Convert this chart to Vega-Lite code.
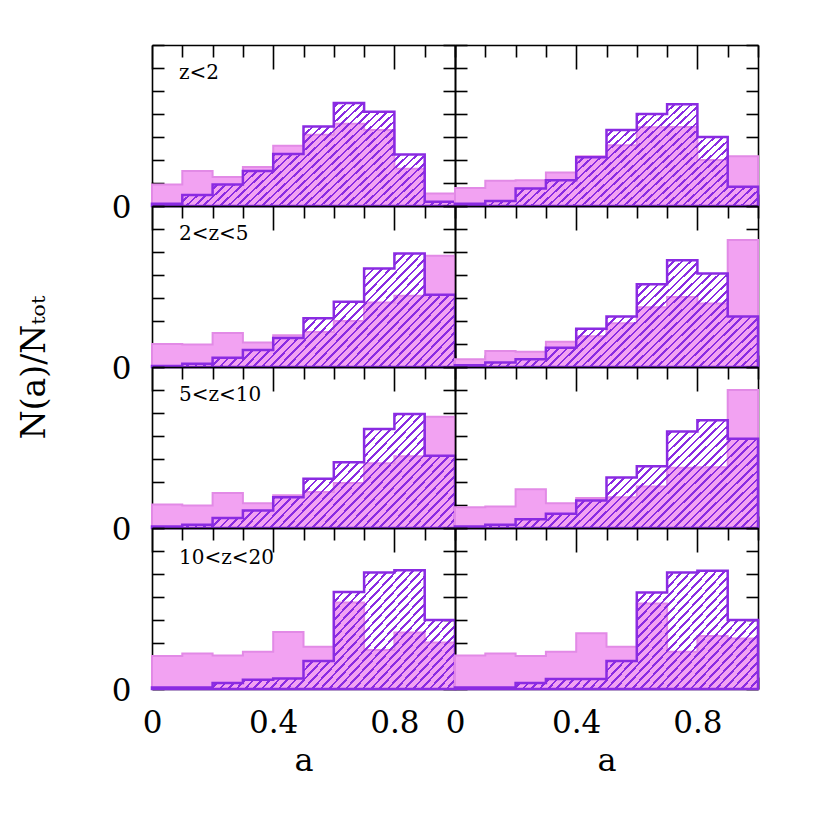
{
  "$schema": "https://vega.github.io/schema/vega-lite/v6.json",
  "background": "white",
  "padding": {"left": 18, "top": 31, "right": 5, "bottom": 5},
  "datasets": {
    "r1L": [
      {"a": 0.0, "pink": 0.047, "purple": 0.005}, {"a": 0.1, "pink": 0.076, "purple": 0.024},
      {"a": 0.2, "pink": 0.063, "purple": 0.047}, {"a": 0.3, "pink": 0.085, "purple": 0.076},
      {"a": 0.4, "pink": 0.131, "purple": 0.113}, {"a": 0.5, "pink": 0.155, "purple": 0.173},
      {"a": 0.6, "pink": 0.179, "purple": 0.224}, {"a": 0.7, "pink": 0.165, "purple": 0.205},
      {"a": 0.8, "pink": 0.081, "purple": 0.112}, {"a": 0.9, "pink": 0.027, "purple": 0.009},
      {"a": 1.0, "pink": 0.027, "purple": 0.009}
    ],
    "r1R": [
      {"a": 0.0, "pink": 0.039, "purple": 0.005}, {"a": 0.1, "pink": 0.055, "purple": 0.011},
      {"a": 0.2, "pink": 0.056, "purple": 0.038}, {"a": 0.3, "pink": 0.073, "purple": 0.056},
      {"a": 0.4, "pink": 0.108, "purple": 0.106}, {"a": 0.5, "pink": 0.132, "purple": 0.165},
      {"a": 0.6, "pink": 0.171, "purple": 0.200}, {"a": 0.7, "pink": 0.172, "purple": 0.221},
      {"a": 0.8, "pink": 0.100, "purple": 0.150}, {"a": 0.9, "pink": 0.108, "purple": 0.042},
      {"a": 1.0, "pink": 0.108, "purple": 0.042}
    ],
    "r2L": [
      {"a": 0.0, "pink": 0.050, "purple": 0.002}, {"a": 0.1, "pink": 0.049, "purple": 0.007},
      {"a": 0.2, "pink": 0.074, "purple": 0.020}, {"a": 0.3, "pink": 0.053, "purple": 0.037},
      {"a": 0.4, "pink": 0.069, "purple": 0.063}, {"a": 0.5, "pink": 0.076, "purple": 0.106},
      {"a": 0.6, "pink": 0.100, "purple": 0.142}, {"a": 0.7, "pink": 0.140, "purple": 0.214},
      {"a": 0.8, "pink": 0.155, "purple": 0.247}, {"a": 0.9, "pink": 0.242, "purple": 0.157},
      {"a": 1.0, "pink": 0.242, "purple": 0.157}
    ],
    "r2R": [
      {"a": 0.0, "pink": 0.017, "purple": 0.004}, {"a": 0.1, "pink": 0.035, "purple": 0.010},
      {"a": 0.2, "pink": 0.033, "purple": 0.017}, {"a": 0.3, "pink": 0.055, "purple": 0.042},
      {"a": 0.4, "pink": 0.067, "purple": 0.083}, {"a": 0.5, "pink": 0.095, "purple": 0.110},
      {"a": 0.6, "pink": 0.130, "purple": 0.180}, {"a": 0.7, "pink": 0.152, "purple": 0.232},
      {"a": 0.8, "pink": 0.138, "purple": 0.203}, {"a": 0.9, "pink": 0.276, "purple": 0.110},
      {"a": 1.0, "pink": 0.276, "purple": 0.110}
    ],
    "r3L": [
      {"a": 0.0, "pink": 0.051, "purple": 0.003}, {"a": 0.1, "pink": 0.049, "purple": 0.007},
      {"a": 0.2, "pink": 0.076, "purple": 0.022}, {"a": 0.3, "pink": 0.054, "purple": 0.038},
      {"a": 0.4, "pink": 0.071, "purple": 0.067}, {"a": 0.5, "pink": 0.078, "purple": 0.107},
      {"a": 0.6, "pink": 0.098, "purple": 0.143}, {"a": 0.7, "pink": 0.141, "purple": 0.215},
      {"a": 0.8, "pink": 0.156, "purple": 0.248}, {"a": 0.9, "pink": 0.242, "purple": 0.157},
      {"a": 1.0, "pink": 0.242, "purple": 0.157}
    ],
    "r3R": [
      {"a": 0.0, "pink": 0.045, "purple": 0.003}, {"a": 0.1, "pink": 0.047, "purple": 0.007},
      {"a": 0.2, "pink": 0.084, "purple": 0.019}, {"a": 0.3, "pink": 0.054, "purple": 0.031},
      {"a": 0.4, "pink": 0.065, "purple": 0.060}, {"a": 0.5, "pink": 0.067, "purple": 0.110},
      {"a": 0.6, "pink": 0.090, "purple": 0.134}, {"a": 0.7, "pink": 0.131, "purple": 0.210},
      {"a": 0.8, "pink": 0.132, "purple": 0.234}, {"a": 0.9, "pink": 0.300, "purple": 0.194},
      {"a": 1.0, "pink": 0.300, "purple": 0.194}
    ],
    "r4L": [
      {"a": 0.0, "pink": 0.072, "purple": 0.003}, {"a": 0.1, "pink": 0.077, "purple": 0.003},
      {"a": 0.2, "pink": 0.073, "purple": 0.013}, {"a": 0.3, "pink": 0.081, "purple": 0.020},
      {"a": 0.4, "pink": 0.124, "purple": 0.023}, {"a": 0.5, "pink": 0.092, "purple": 0.061},
      {"a": 0.6, "pink": 0.188, "purple": 0.211}, {"a": 0.7, "pink": 0.085, "purple": 0.253},
      {"a": 0.8, "pink": 0.123, "purple": 0.258}, {"a": 0.9, "pink": 0.101, "purple": 0.150},
      {"a": 1.0, "pink": 0.101, "purple": 0.150}
    ],
    "r4R": [
      {"a": 0.0, "pink": 0.073, "purple": 0.003}, {"a": 0.1, "pink": 0.077, "purple": 0.003},
      {"a": 0.2, "pink": 0.072, "purple": 0.013}, {"a": 0.3, "pink": 0.081, "purple": 0.022},
      {"a": 0.4, "pink": 0.121, "purple": 0.022}, {"a": 0.5, "pink": 0.092, "purple": 0.061},
      {"a": 0.6, "pink": 0.186, "purple": 0.210}, {"a": 0.7, "pink": 0.081, "purple": 0.253},
      {"a": 0.8, "pink": 0.115, "purple": 0.257}, {"a": 0.9, "pink": 0.110, "purple": 0.150},
      {"a": 1.0, "pink": 0.110, "purple": 0.150}
    ]
  },
  "columns": 2,
  "spacing": 0,
  "bounds": "flush",
  "concat": [
    {
      "width": 303, "height": 161, "data": {"name": "r1L"},
      "layer": [
        {"mark": {"type": "area", "interpolate": "step-after", "fill": "#f2a2f2", "stroke": "#e28ae6", "strokeWidth": 2},
         "encoding": {
           "x": {"field": "a", "type": "quantitative", "scale": {"domain": [0, 1], "nice": false}, "axis": {"orient": "bottom", "values": [0, 0.1, 0.2, 0.3, 0.4, 0.5, 0.6, 0.7, 0.8, 0.9, 1], "tickSize": {"condition": {"test": "round(datum.value*10)%4==0", "value": -24}, "value": -12}, "labels": false, "title": null}},
           "y": {"field": "pink", "type": "quantitative", "scale": {"domain": [0, 0.35], "nice": false}, "axis": {"orient": "left", "values": [0, 0.05, 0.1, 0.15, 0.2, 0.25, 0.3, 0.35], "tickSize": -12, "labelExpr": "datum.value==0 ? '0' : ''", "labelPadding": 33, "labelOffset": 2, "title": null}}
         }},
        {"mark": {"type": "area", "interpolate": "step-after", "stroke": "#8a2be2", "strokeWidth": 2.5},
         "encoding": {
           "x": {"field": "a", "type": "quantitative", "scale": {"domain": [0, 1], "nice": false}, "axis": {"orient": "top", "values": [0, 0.1, 0.2, 0.3, 0.4, 0.5, 0.6, 0.7, 0.8, 0.9, 1], "tickSize": {"condition": {"test": "round(datum.value*10)%4==0", "value": -24}, "value": -12}, "labels": false, "title": null}},
           "y": {"field": "purple", "type": "quantitative", "scale": {"domain": [0, 0.35], "nice": false}, "axis": {"orient": "right", "values": [0, 0.05, 0.1, 0.15, 0.2, 0.25, 0.3, 0.35], "tickSize": -12, "labels": false, "title": null}}
         }},
        {"data": {"values": [{"t": "z<2"}]},
         "mark": {"type": "text", "font": "DejaVu Serif", "fontSize": 20, "align": "left", "baseline": "alphabetic", "color": "black"},
         "encoding": {
           "x": {"datum": 0.089, "type": "quantitative", "scale": {"domain": [0, 1], "nice": false}, "axis": null},
           "y": {"datum": 0.276, "type": "quantitative", "scale": {"domain": [0, 0.35], "nice": false}, "axis": null},
           "text": {"field": "t"}
         }}
      ],
      "resolve": {"axis": {"x": "independent", "y": "independent"}}
    },
    {
      "width": 303, "height": 161, "data": {"name": "r1R"},
      "layer": [
        {"mark": {"type": "area", "interpolate": "step-after", "fill": "#f2a2f2", "stroke": "#e28ae6", "strokeWidth": 2},
         "encoding": {
           "x": {"field": "a", "type": "quantitative", "scale": {"domain": [0, 1], "nice": false}, "axis": {"orient": "bottom", "values": [0, 0.1, 0.2, 0.3, 0.4, 0.5, 0.6, 0.7, 0.8, 0.9, 1], "tickSize": {"condition": {"test": "round(datum.value*10)%4==0", "value": -24}, "value": -12}, "labels": false, "title": null}},
           "y": {"field": "pink", "type": "quantitative", "scale": {"domain": [0, 0.35], "nice": false}, "axis": {"orient": "left", "values": [0, 0.05, 0.1, 0.15, 0.2, 0.25, 0.3, 0.35], "tickSize": -12, "labels": false, "title": null}}
         }},
        {"mark": {"type": "area", "interpolate": "step-after", "stroke": "#8a2be2", "strokeWidth": 2.5},
         "encoding": {
           "x": {"field": "a", "type": "quantitative", "scale": {"domain": [0, 1], "nice": false}, "axis": {"orient": "top", "values": [0, 0.1, 0.2, 0.3, 0.4, 0.5, 0.6, 0.7, 0.8, 0.9, 1], "tickSize": {"condition": {"test": "round(datum.value*10)%4==0", "value": -24}, "value": -12}, "labels": false, "title": null}},
           "y": {"field": "purple", "type": "quantitative", "scale": {"domain": [0, 0.35], "nice": false}, "axis": {"orient": "right", "values": [0, 0.05, 0.1, 0.15, 0.2, 0.25, 0.3, 0.35], "tickSize": -12, "labels": false, "title": null}}
         }}
      ],
      "resolve": {"axis": {"x": "independent", "y": "independent"}}
    },
    {
      "width": 303, "height": 161, "data": {"name": "r2L"},
      "layer": [
        {"mark": {"type": "area", "interpolate": "step-after", "fill": "#f2a2f2", "stroke": "#e28ae6", "strokeWidth": 2},
         "encoding": {
           "x": {"field": "a", "type": "quantitative", "scale": {"domain": [0, 1], "nice": false}, "axis": {"orient": "bottom", "values": [0, 0.1, 0.2, 0.3, 0.4, 0.5, 0.6, 0.7, 0.8, 0.9, 1], "tickSize": {"condition": {"test": "round(datum.value*10)%4==0", "value": -24}, "value": -12}, "labels": false, "title": null}},
           "y": {"field": "pink", "type": "quantitative", "scale": {"domain": [0, 0.35], "nice": false}, "axis": {"orient": "left", "values": [0, 0.05, 0.1, 0.15, 0.2, 0.25, 0.3, 0.35], "tickSize": -12, "labelExpr": "datum.value==0 ? '0' : ''", "labelPadding": 33, "labelOffset": 2, "title": "N(a)/Nₜₒₜ", "titleX": -118, "titleY": 161, "titleAngle": 270, "titleAlign": "center", "titleBaseline": "middle", "titleFontSize": 33}}
         }},
        {"mark": {"type": "area", "interpolate": "step-after", "stroke": "#8a2be2", "strokeWidth": 2.5},
         "encoding": {
           "x": {"field": "a", "type": "quantitative", "scale": {"domain": [0, 1], "nice": false}, "axis": {"orient": "top", "values": [0, 0.1, 0.2, 0.3, 0.4, 0.5, 0.6, 0.7, 0.8, 0.9, 1], "tickSize": {"condition": {"test": "round(datum.value*10)%4==0", "value": -24}, "value": -12}, "labels": false, "title": null}},
           "y": {"field": "purple", "type": "quantitative", "scale": {"domain": [0, 0.35], "nice": false}, "axis": {"orient": "right", "values": [0, 0.05, 0.1, 0.15, 0.2, 0.25, 0.3, 0.35], "tickSize": -12, "labels": false, "title": null}}
         }},
        {"data": {"values": [{"t": "2<z<5"}]},
         "mark": {"type": "text", "font": "DejaVu Serif", "fontSize": 20, "align": "left", "baseline": "alphabetic", "color": "black"},
         "encoding": {
           "x": {"datum": 0.089, "type": "quantitative", "scale": {"domain": [0, 1], "nice": false}, "axis": null},
           "y": {"datum": 0.276, "type": "quantitative", "scale": {"domain": [0, 0.35], "nice": false}, "axis": null},
           "text": {"field": "t"}
         }}
      ],
      "resolve": {"axis": {"x": "independent", "y": "independent"}}
    },
    {
      "width": 303, "height": 161, "data": {"name": "r2R"},
      "layer": [
        {"mark": {"type": "area", "interpolate": "step-after", "fill": "#f2a2f2", "stroke": "#e28ae6", "strokeWidth": 2},
         "encoding": {
           "x": {"field": "a", "type": "quantitative", "scale": {"domain": [0, 1], "nice": false}, "axis": {"orient": "bottom", "values": [0, 0.1, 0.2, 0.3, 0.4, 0.5, 0.6, 0.7, 0.8, 0.9, 1], "tickSize": {"condition": {"test": "round(datum.value*10)%4==0", "value": -24}, "value": -12}, "labels": false, "title": null}},
           "y": {"field": "pink", "type": "quantitative", "scale": {"domain": [0, 0.35], "nice": false}, "axis": {"orient": "left", "values": [0, 0.05, 0.1, 0.15, 0.2, 0.25, 0.3, 0.35], "tickSize": -12, "labels": false, "title": null}}
         }},
        {"mark": {"type": "area", "interpolate": "step-after", "stroke": "#8a2be2", "strokeWidth": 2.5},
         "encoding": {
           "x": {"field": "a", "type": "quantitative", "scale": {"domain": [0, 1], "nice": false}, "axis": {"orient": "top", "values": [0, 0.1, 0.2, 0.3, 0.4, 0.5, 0.6, 0.7, 0.8, 0.9, 1], "tickSize": {"condition": {"test": "round(datum.value*10)%4==0", "value": -24}, "value": -12}, "labels": false, "title": null}},
           "y": {"field": "purple", "type": "quantitative", "scale": {"domain": [0, 0.35], "nice": false}, "axis": {"orient": "right", "values": [0, 0.05, 0.1, 0.15, 0.2, 0.25, 0.3, 0.35], "tickSize": -12, "labels": false, "title": null}}
         }}
      ],
      "resolve": {"axis": {"x": "independent", "y": "independent"}}
    },
    {
      "width": 303, "height": 161, "data": {"name": "r3L"},
      "layer": [
        {"mark": {"type": "area", "interpolate": "step-after", "fill": "#f2a2f2", "stroke": "#e28ae6", "strokeWidth": 2},
         "encoding": {
           "x": {"field": "a", "type": "quantitative", "scale": {"domain": [0, 1], "nice": false}, "axis": {"orient": "bottom", "values": [0, 0.1, 0.2, 0.3, 0.4, 0.5, 0.6, 0.7, 0.8, 0.9, 1], "tickSize": {"condition": {"test": "round(datum.value*10)%4==0", "value": -24}, "value": -12}, "labels": false, "title": null}},
           "y": {"field": "pink", "type": "quantitative", "scale": {"domain": [0, 0.35], "nice": false}, "axis": {"orient": "left", "values": [0, 0.05, 0.1, 0.15, 0.2, 0.25, 0.3, 0.35], "tickSize": -12, "labelExpr": "datum.value==0 ? '0' : ''", "labelPadding": 33, "labelOffset": 2, "title": null}}
         }},
        {"mark": {"type": "area", "interpolate": "step-after", "stroke": "#8a2be2", "strokeWidth": 2.5},
         "encoding": {
           "x": {"field": "a", "type": "quantitative", "scale": {"domain": [0, 1], "nice": false}, "axis": {"orient": "top", "values": [0, 0.1, 0.2, 0.3, 0.4, 0.5, 0.6, 0.7, 0.8, 0.9, 1], "tickSize": {"condition": {"test": "round(datum.value*10)%4==0", "value": -24}, "value": -12}, "labels": false, "title": null}},
           "y": {"field": "purple", "type": "quantitative", "scale": {"domain": [0, 0.35], "nice": false}, "axis": {"orient": "right", "values": [0, 0.05, 0.1, 0.15, 0.2, 0.25, 0.3, 0.35], "tickSize": -12, "labels": false, "title": null}}
         }},
        {"data": {"values": [{"t": "5<z<10"}]},
         "mark": {"type": "text", "font": "DejaVu Serif", "fontSize": 20, "align": "left", "baseline": "alphabetic", "color": "black"},
         "encoding": {
           "x": {"datum": 0.089, "type": "quantitative", "scale": {"domain": [0, 1], "nice": false}, "axis": null},
           "y": {"datum": 0.276, "type": "quantitative", "scale": {"domain": [0, 0.35], "nice": false}, "axis": null},
           "text": {"field": "t"}
         }}
      ],
      "resolve": {"axis": {"x": "independent", "y": "independent"}}
    },
    {
      "width": 303, "height": 161, "data": {"name": "r3R"},
      "layer": [
        {"mark": {"type": "area", "interpolate": "step-after", "fill": "#f2a2f2", "stroke": "#e28ae6", "strokeWidth": 2},
         "encoding": {
           "x": {"field": "a", "type": "quantitative", "scale": {"domain": [0, 1], "nice": false}, "axis": {"orient": "bottom", "values": [0, 0.1, 0.2, 0.3, 0.4, 0.5, 0.6, 0.7, 0.8, 0.9, 1], "tickSize": {"condition": {"test": "round(datum.value*10)%4==0", "value": -24}, "value": -12}, "labels": false, "title": null}},
           "y": {"field": "pink", "type": "quantitative", "scale": {"domain": [0, 0.35], "nice": false}, "axis": {"orient": "left", "values": [0, 0.05, 0.1, 0.15, 0.2, 0.25, 0.3, 0.35], "tickSize": -12, "labels": false, "title": null}}
         }},
        {"mark": {"type": "area", "interpolate": "step-after", "stroke": "#8a2be2", "strokeWidth": 2.5},
         "encoding": {
           "x": {"field": "a", "type": "quantitative", "scale": {"domain": [0, 1], "nice": false}, "axis": {"orient": "top", "values": [0, 0.1, 0.2, 0.3, 0.4, 0.5, 0.6, 0.7, 0.8, 0.9, 1], "tickSize": {"condition": {"test": "round(datum.value*10)%4==0", "value": -24}, "value": -12}, "labels": false, "title": null}},
           "y": {"field": "purple", "type": "quantitative", "scale": {"domain": [0, 0.35], "nice": false}, "axis": {"orient": "right", "values": [0, 0.05, 0.1, 0.15, 0.2, 0.25, 0.3, 0.35], "tickSize": -12, "labels": false, "title": null}}
         }}
      ],
      "resolve": {"axis": {"x": "independent", "y": "independent"}}
    },
    {
      "width": 303, "height": 161, "data": {"name": "r4L"},
      "layer": [
        {"mark": {"type": "area", "interpolate": "step-after", "fill": "#f2a2f2", "stroke": "#e28ae6", "strokeWidth": 2},
         "encoding": {
           "x": {"field": "a", "type": "quantitative", "scale": {"domain": [0, 1], "nice": false}, "axis": {"orient": "bottom", "values": [0, 0.1, 0.2, 0.3, 0.4, 0.5, 0.6, 0.7, 0.8, 0.9, 1], "tickSize": {"condition": {"test": "round(datum.value*10)%4==0", "value": -24}, "value": -12}, "labelExpr": "round(datum.value*10)%4==0 && datum.value<0.95 ? (datum.value==0 ? '0' : format(datum.value,'.1f')) : ''", "labelPadding": 43, "title": "a", "titlePadding": -5}},
           "y": {"field": "pink", "type": "quantitative", "scale": {"domain": [0, 0.35], "nice": false}, "axis": {"orient": "left", "values": [0, 0.05, 0.1, 0.15, 0.2, 0.25, 0.3, 0.35], "tickSize": -12, "labelExpr": "datum.value==0 ? '0' : ''", "labelPadding": 33, "labelOffset": 2, "title": null}}
         }},
        {"mark": {"type": "area", "interpolate": "step-after", "stroke": "#8a2be2", "strokeWidth": 2.5},
         "encoding": {
           "x": {"field": "a", "type": "quantitative", "scale": {"domain": [0, 1], "nice": false}, "axis": {"orient": "top", "values": [0, 0.1, 0.2, 0.3, 0.4, 0.5, 0.6, 0.7, 0.8, 0.9, 1], "tickSize": {"condition": {"test": "round(datum.value*10)%4==0", "value": -24}, "value": -12}, "labels": false, "title": null}},
           "y": {"field": "purple", "type": "quantitative", "scale": {"domain": [0, 0.35], "nice": false}, "axis": {"orient": "right", "values": [0, 0.05, 0.1, 0.15, 0.2, 0.25, 0.3, 0.35], "tickSize": -12, "labels": false, "title": null}}
         }},
        {"data": {"values": [{"t": "10<z<20"}]},
         "mark": {"type": "text", "font": "DejaVu Serif", "fontSize": 20, "align": "left", "baseline": "alphabetic", "color": "black"},
         "encoding": {
           "x": {"datum": 0.089, "type": "quantitative", "scale": {"domain": [0, 1], "nice": false}, "axis": null},
           "y": {"datum": 0.272, "type": "quantitative", "scale": {"domain": [0, 0.35], "nice": false}, "axis": null},
           "text": {"field": "t"}
         }}
      ],
      "resolve": {"axis": {"x": "independent", "y": "independent"}}
    },
    {
      "width": 303, "height": 161, "data": {"name": "r4R"},
      "layer": [
        {"mark": {"type": "area", "interpolate": "step-after", "fill": "#f2a2f2", "stroke": "#e28ae6", "strokeWidth": 2},
         "encoding": {
           "x": {"field": "a", "type": "quantitative", "scale": {"domain": [0, 1], "nice": false}, "axis": {"orient": "bottom", "values": [0, 0.1, 0.2, 0.3, 0.4, 0.5, 0.6, 0.7, 0.8, 0.9, 1], "tickSize": {"condition": {"test": "round(datum.value*10)%4==0", "value": -24}, "value": -12}, "labelExpr": "round(datum.value*10)%4==0 && datum.value<0.95 ? (datum.value==0 ? '0' : format(datum.value,'.1f')) : ''", "labelPadding": 43, "title": "a", "titlePadding": -5}},
           "y": {"field": "pink", "type": "quantitative", "scale": {"domain": [0, 0.35], "nice": false}, "axis": {"orient": "left", "values": [0, 0.05, 0.1, 0.15, 0.2, 0.25, 0.3, 0.35], "tickSize": -12, "labels": false, "title": null}}
         }},
        {"mark": {"type": "area", "interpolate": "step-after", "stroke": "#8a2be2", "strokeWidth": 2.5},
         "encoding": {
           "x": {"field": "a", "type": "quantitative", "scale": {"domain": [0, 1], "nice": false}, "axis": {"orient": "top", "values": [0, 0.1, 0.2, 0.3, 0.4, 0.5, 0.6, 0.7, 0.8, 0.9, 1], "tickSize": {"condition": {"test": "round(datum.value*10)%4==0", "value": -24}, "value": -12}, "labels": false, "title": null}},
           "y": {"field": "purple", "type": "quantitative", "scale": {"domain": [0, 0.35], "nice": false}, "axis": {"orient": "right", "values": [0, 0.05, 0.1, 0.15, 0.2, 0.25, 0.3, 0.35], "tickSize": -12, "labels": false, "title": null}}
         }}
      ],
      "resolve": {"axis": {"x": "independent", "y": "independent"}}
    }
  ],
  "config": {
    "view": {"stroke": null},
    "area": {
      "fill": {
        "gradient": "linear", "x1": 0, "y1": 0, "x2": 1.531, "y2": 0.5557,
        "stops": [
          {"offset": 0, "color": "#8a2be2"}, {"offset": 0.005, "color": "#8a2be2"}, {"offset": 0.005, "color": "#8a2be200"}, {"offset": 0.016, "color": "#8a2be200"},
          {"offset": 0.016, "color": "#8a2be2"}, {"offset": 0.021, "color": "#8a2be2"}, {"offset": 0.021, "color": "#8a2be200"}, {"offset": 0.032, "color": "#8a2be200"},
          {"offset": 0.032, "color": "#8a2be2"}, {"offset": 0.037, "color": "#8a2be2"}, {"offset": 0.037, "color": "#8a2be200"}, {"offset": 0.048, "color": "#8a2be200"},
          {"offset": 0.048, "color": "#8a2be2"}, {"offset": 0.053, "color": "#8a2be2"}, {"offset": 0.053, "color": "#8a2be200"}, {"offset": 0.064, "color": "#8a2be200"},
          {"offset": 0.064, "color": "#8a2be2"}, {"offset": 0.069, "color": "#8a2be2"}, {"offset": 0.069, "color": "#8a2be200"}, {"offset": 0.08, "color": "#8a2be200"},
          {"offset": 0.08, "color": "#8a2be2"}, {"offset": 0.085, "color": "#8a2be2"}, {"offset": 0.085, "color": "#8a2be200"}, {"offset": 0.096, "color": "#8a2be200"},
          {"offset": 0.096, "color": "#8a2be2"}, {"offset": 0.101, "color": "#8a2be2"}, {"offset": 0.101, "color": "#8a2be200"}, {"offset": 0.112, "color": "#8a2be200"},
          {"offset": 0.112, "color": "#8a2be2"}, {"offset": 0.117, "color": "#8a2be2"}, {"offset": 0.117, "color": "#8a2be200"}, {"offset": 0.128, "color": "#8a2be200"},
          {"offset": 0.128, "color": "#8a2be2"}, {"offset": 0.133, "color": "#8a2be2"}, {"offset": 0.133, "color": "#8a2be200"}, {"offset": 0.144, "color": "#8a2be200"},
          {"offset": 0.144, "color": "#8a2be2"}, {"offset": 0.149, "color": "#8a2be2"}, {"offset": 0.149, "color": "#8a2be200"}, {"offset": 0.16, "color": "#8a2be200"},
          {"offset": 0.16, "color": "#8a2be2"}, {"offset": 0.165, "color": "#8a2be2"}, {"offset": 0.165, "color": "#8a2be200"}, {"offset": 0.176, "color": "#8a2be200"},
          {"offset": 0.176, "color": "#8a2be2"}, {"offset": 0.181, "color": "#8a2be2"}, {"offset": 0.181, "color": "#8a2be200"}, {"offset": 0.192, "color": "#8a2be200"},
          {"offset": 0.192, "color": "#8a2be2"}, {"offset": 0.197, "color": "#8a2be2"}, {"offset": 0.197, "color": "#8a2be200"}, {"offset": 0.208, "color": "#8a2be200"},
          {"offset": 0.208, "color": "#8a2be2"}, {"offset": 0.213, "color": "#8a2be2"}, {"offset": 0.213, "color": "#8a2be200"}, {"offset": 0.224, "color": "#8a2be200"},
          {"offset": 0.224, "color": "#8a2be2"}, {"offset": 0.229, "color": "#8a2be2"}, {"offset": 0.229, "color": "#8a2be200"}, {"offset": 0.24, "color": "#8a2be200"},
          {"offset": 0.24, "color": "#8a2be2"}, {"offset": 0.245, "color": "#8a2be2"}, {"offset": 0.245, "color": "#8a2be200"}, {"offset": 0.256, "color": "#8a2be200"},
          {"offset": 0.256, "color": "#8a2be2"}, {"offset": 0.261, "color": "#8a2be2"}, {"offset": 0.261, "color": "#8a2be200"}, {"offset": 0.272, "color": "#8a2be200"},
          {"offset": 0.272, "color": "#8a2be2"}, {"offset": 0.277, "color": "#8a2be2"}, {"offset": 0.277, "color": "#8a2be200"}, {"offset": 0.288, "color": "#8a2be200"},
          {"offset": 0.288, "color": "#8a2be2"}, {"offset": 0.293, "color": "#8a2be2"}, {"offset": 0.293, "color": "#8a2be200"}, {"offset": 0.304, "color": "#8a2be200"},
          {"offset": 0.304, "color": "#8a2be2"}, {"offset": 0.309, "color": "#8a2be2"}, {"offset": 0.309, "color": "#8a2be200"}, {"offset": 0.32, "color": "#8a2be200"},
          {"offset": 0.32, "color": "#8a2be2"}, {"offset": 0.325, "color": "#8a2be2"}, {"offset": 0.325, "color": "#8a2be200"}, {"offset": 0.336, "color": "#8a2be200"},
          {"offset": 0.336, "color": "#8a2be2"}, {"offset": 0.341, "color": "#8a2be2"}, {"offset": 0.341, "color": "#8a2be200"}, {"offset": 0.352, "color": "#8a2be200"},
          {"offset": 0.352, "color": "#8a2be2"}, {"offset": 0.357, "color": "#8a2be2"}, {"offset": 0.357, "color": "#8a2be200"}, {"offset": 0.368, "color": "#8a2be200"},
          {"offset": 0.368, "color": "#8a2be2"}, {"offset": 0.373, "color": "#8a2be2"}, {"offset": 0.373, "color": "#8a2be200"}, {"offset": 0.384, "color": "#8a2be200"},
          {"offset": 0.384, "color": "#8a2be2"}, {"offset": 0.389, "color": "#8a2be2"}, {"offset": 0.389, "color": "#8a2be200"}, {"offset": 0.4, "color": "#8a2be200"},
          {"offset": 0.4, "color": "#8a2be2"}, {"offset": 0.405, "color": "#8a2be2"}, {"offset": 0.405, "color": "#8a2be200"}, {"offset": 0.416, "color": "#8a2be200"},
          {"offset": 0.416, "color": "#8a2be2"}, {"offset": 0.421, "color": "#8a2be2"}, {"offset": 0.421, "color": "#8a2be200"}, {"offset": 0.432, "color": "#8a2be200"},
          {"offset": 0.432, "color": "#8a2be2"}, {"offset": 0.437, "color": "#8a2be2"}, {"offset": 0.437, "color": "#8a2be200"}, {"offset": 0.448, "color": "#8a2be200"},
          {"offset": 0.448, "color": "#8a2be2"}, {"offset": 0.453, "color": "#8a2be2"}, {"offset": 0.453, "color": "#8a2be200"}, {"offset": 0.464, "color": "#8a2be200"},
          {"offset": 0.464, "color": "#8a2be2"}, {"offset": 0.469, "color": "#8a2be2"}, {"offset": 0.469, "color": "#8a2be200"}, {"offset": 0.48, "color": "#8a2be200"},
          {"offset": 0.48, "color": "#8a2be2"}, {"offset": 0.485, "color": "#8a2be2"}, {"offset": 0.485, "color": "#8a2be200"}, {"offset": 0.496, "color": "#8a2be200"},
          {"offset": 0.496, "color": "#8a2be2"}, {"offset": 0.501, "color": "#8a2be2"}, {"offset": 0.501, "color": "#8a2be200"}, {"offset": 0.512, "color": "#8a2be200"},
          {"offset": 0.512, "color": "#8a2be2"}, {"offset": 0.517, "color": "#8a2be2"}, {"offset": 0.517, "color": "#8a2be200"}, {"offset": 0.528, "color": "#8a2be200"},
          {"offset": 0.528, "color": "#8a2be2"}, {"offset": 0.533, "color": "#8a2be2"}, {"offset": 0.533, "color": "#8a2be200"}, {"offset": 0.544, "color": "#8a2be200"},
          {"offset": 0.544, "color": "#8a2be2"}, {"offset": 0.549, "color": "#8a2be2"}, {"offset": 0.549, "color": "#8a2be200"}, {"offset": 0.56, "color": "#8a2be200"},
          {"offset": 0.56, "color": "#8a2be2"}, {"offset": 0.565, "color": "#8a2be2"}, {"offset": 0.565, "color": "#8a2be200"}, {"offset": 0.576, "color": "#8a2be200"},
          {"offset": 0.576, "color": "#8a2be2"}, {"offset": 0.581, "color": "#8a2be2"}, {"offset": 0.581, "color": "#8a2be200"}, {"offset": 0.592, "color": "#8a2be200"},
          {"offset": 0.592, "color": "#8a2be2"}, {"offset": 0.597, "color": "#8a2be2"}, {"offset": 0.597, "color": "#8a2be200"}, {"offset": 0.608, "color": "#8a2be200"},
          {"offset": 0.608, "color": "#8a2be2"}, {"offset": 0.613, "color": "#8a2be2"}, {"offset": 0.613, "color": "#8a2be200"}, {"offset": 0.624, "color": "#8a2be200"},
          {"offset": 0.624, "color": "#8a2be2"}, {"offset": 0.629, "color": "#8a2be2"}, {"offset": 0.629, "color": "#8a2be200"}, {"offset": 0.64, "color": "#8a2be200"},
          {"offset": 0.64, "color": "#8a2be2"}, {"offset": 0.645, "color": "#8a2be2"}, {"offset": 0.645, "color": "#8a2be200"}, {"offset": 0.656, "color": "#8a2be200"},
          {"offset": 0.656, "color": "#8a2be2"}, {"offset": 0.661, "color": "#8a2be2"}, {"offset": 0.661, "color": "#8a2be200"}, {"offset": 0.672, "color": "#8a2be200"},
          {"offset": 0.672, "color": "#8a2be2"}, {"offset": 0.677, "color": "#8a2be2"}, {"offset": 0.677, "color": "#8a2be200"}, {"offset": 0.688, "color": "#8a2be200"},
          {"offset": 0.688, "color": "#8a2be2"}, {"offset": 0.693, "color": "#8a2be2"}, {"offset": 0.693, "color": "#8a2be200"}, {"offset": 0.704, "color": "#8a2be200"},
          {"offset": 0.704, "color": "#8a2be2"}, {"offset": 0.709, "color": "#8a2be2"}, {"offset": 0.709, "color": "#8a2be200"}, {"offset": 0.72, "color": "#8a2be200"},
          {"offset": 0.72, "color": "#8a2be2"}, {"offset": 0.725, "color": "#8a2be2"}, {"offset": 0.725, "color": "#8a2be200"}, {"offset": 0.736, "color": "#8a2be200"},
          {"offset": 0.736, "color": "#8a2be2"}, {"offset": 0.741, "color": "#8a2be2"}, {"offset": 0.741, "color": "#8a2be200"}, {"offset": 0.752, "color": "#8a2be200"},
          {"offset": 0.752, "color": "#8a2be2"}, {"offset": 0.757, "color": "#8a2be2"}, {"offset": 0.757, "color": "#8a2be200"}, {"offset": 0.768, "color": "#8a2be200"},
          {"offset": 0.768, "color": "#8a2be2"}, {"offset": 0.773, "color": "#8a2be2"}, {"offset": 0.773, "color": "#8a2be200"}, {"offset": 0.784, "color": "#8a2be200"},
          {"offset": 0.784, "color": "#8a2be2"}, {"offset": 0.789, "color": "#8a2be2"}, {"offset": 0.789, "color": "#8a2be200"}, {"offset": 0.8, "color": "#8a2be200"},
          {"offset": 0.8, "color": "#8a2be2"}, {"offset": 0.805, "color": "#8a2be2"}, {"offset": 0.805, "color": "#8a2be200"}, {"offset": 0.816, "color": "#8a2be200"},
          {"offset": 0.816, "color": "#8a2be2"}, {"offset": 0.821, "color": "#8a2be2"}, {"offset": 0.821, "color": "#8a2be200"}, {"offset": 0.832, "color": "#8a2be200"},
          {"offset": 0.832, "color": "#8a2be2"}, {"offset": 0.837, "color": "#8a2be2"}, {"offset": 0.837, "color": "#8a2be200"}, {"offset": 0.848, "color": "#8a2be200"},
          {"offset": 0.848, "color": "#8a2be2"}, {"offset": 0.853, "color": "#8a2be2"}, {"offset": 0.853, "color": "#8a2be200"}, {"offset": 0.864, "color": "#8a2be200"},
          {"offset": 0.864, "color": "#8a2be2"}, {"offset": 0.869, "color": "#8a2be2"}, {"offset": 0.869, "color": "#8a2be200"}, {"offset": 0.88, "color": "#8a2be200"},
          {"offset": 0.88, "color": "#8a2be2"}, {"offset": 0.885, "color": "#8a2be2"}, {"offset": 0.885, "color": "#8a2be200"}, {"offset": 0.896, "color": "#8a2be200"},
          {"offset": 0.896, "color": "#8a2be2"}, {"offset": 0.901, "color": "#8a2be2"}, {"offset": 0.901, "color": "#8a2be200"}, {"offset": 0.912, "color": "#8a2be200"},
          {"offset": 0.912, "color": "#8a2be2"}, {"offset": 0.917, "color": "#8a2be2"}, {"offset": 0.917, "color": "#8a2be200"}, {"offset": 0.928, "color": "#8a2be200"},
          {"offset": 0.928, "color": "#8a2be2"}, {"offset": 0.933, "color": "#8a2be2"}, {"offset": 0.933, "color": "#8a2be200"}, {"offset": 0.944, "color": "#8a2be200"},
          {"offset": 0.944, "color": "#8a2be2"}, {"offset": 0.949, "color": "#8a2be2"}, {"offset": 0.949, "color": "#8a2be200"}, {"offset": 0.96, "color": "#8a2be200"},
          {"offset": 0.96, "color": "#8a2be2"}, {"offset": 0.965, "color": "#8a2be2"}, {"offset": 0.965, "color": "#8a2be200"}, {"offset": 0.976, "color": "#8a2be200"},
          {"offset": 0.976, "color": "#8a2be2"}, {"offset": 0.981, "color": "#8a2be2"}, {"offset": 0.981, "color": "#8a2be200"}, {"offset": 0.992, "color": "#8a2be200"},
          {"offset": 0.992, "color": "#8a2be2"}, {"offset": 0.997, "color": "#8a2be2"}, {"offset": 0.997, "color": "#8a2be200"}, {"offset": 1, "color": "#8a2be200"}
        ]
      }
    },
    "axis": {
      "domainColor": "black", "domainWidth": 1.6, "tickColor": "black", "tickWidth": 1.6, "grid": false,
      "labelFont": "DejaVu Serif", "labelFontSize": 31, "labelColor": "black",
      "titleFont": "DejaVu Serif", "titleFontSize": 32, "titleFontWeight": "normal", "titleColor": "black",
      "labelFlush": false, "labelOverlap": false, "labelBound": false, "zindex": 1
    }
  }
}
